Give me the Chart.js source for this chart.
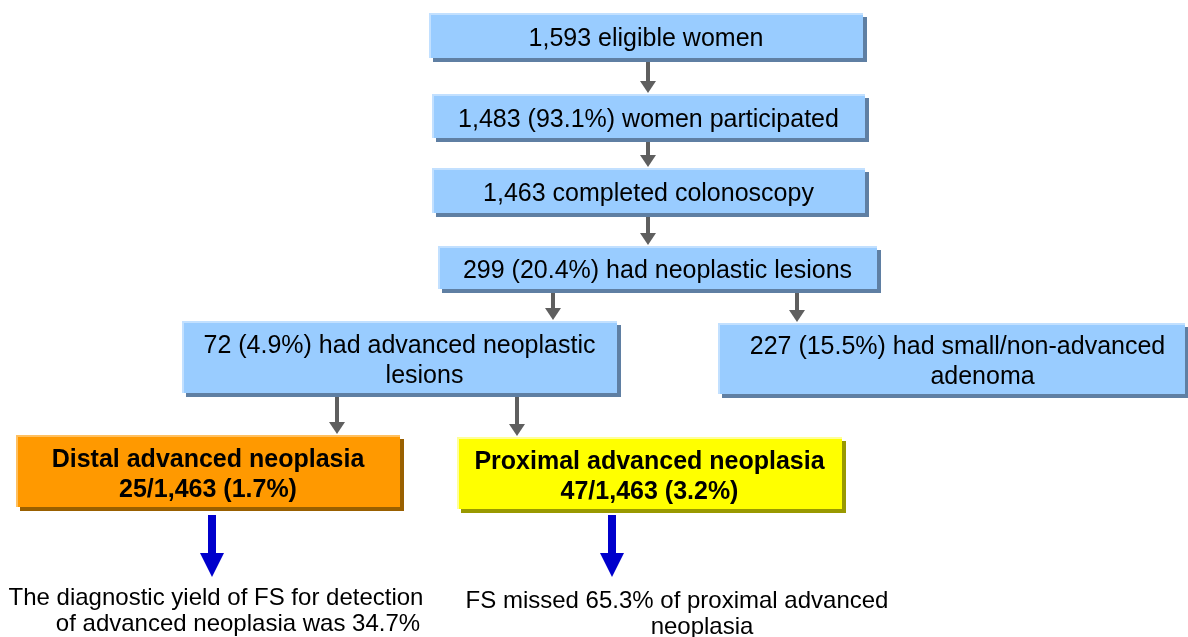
<!DOCTYPE html>
<html><head><meta charset="utf-8">
<script src="https://cdn.jsdelivr.net/npm/chart.js@4/dist/chart.umd.min.js"></script>
<style>html,body{margin:0;padding:0;background:#fff;}#wrap{width:1188px;height:637px;}</style>
</head><body><div id="wrap"><canvas id="c" width="1188" height="637"></canvas></div>
<script>
// ---- content (text) ----
const boxLabels = [
  ["1,593 eligible women"],
  ["1,483 (93.1%) women participated"],
  ["1,463 completed colonoscopy"],
  ["299 (20.4%) had neoplastic lesions"],
  ["72 (4.9%) had advanced neoplastic", "lesions"],
  ["227 (15.5%) had small/non-advanced", "adenoma"],
  ["Distal advanced neoplasia", "25/1,463 (1.7%)"],
  ["Proximal advanced neoplasia", "47/1,463 (3.2%)"]
];
const noteLines = [
  "The diagnostic yield of FS for detection",
  "of advanced neoplasia was 34.7%",
  "FS missed 65.3% of proximal advanced",
  "neoplasia"
];
// ---- layout (positions in scale units) ----
const boxX0 = [429, 432, 432, 438, 182, 718, 16, 457];
const boxX1 = [863, 865, 865, 877, 617, 1185, 400, 842];
const boxY0 = [13, 94, 168, 246, 321, 323, 435, 437];
const boxY1 = [58, 138, 213, 289, 393, 394, 507, 509];
const lineShiftX = [[0], [0], [0], [0], [0, 25], [6, 31], [0, 0], [0, 0]];
const boxKind = ["blue","blue","blue","blue","blue","blue","orange","yellow"];
const grayArrows = [ // x, yStart, yEnd
  [648, 59, 93], [648, 139, 167], [648, 214, 245],
  [553, 290, 320], [797, 290, 322],
  [337, 394, 434], [517, 394, 436]
];
const blueArrows = [[212, 515, 577], [612, 515, 577]];
const noteX = [216, 238, 677, 702];
const noteY = [598, 624, 601, 627];

const styles = {
  blue:   {fill:'#99ccff', shadow:'#5f7fa3', hi:'#c2e0ff', bold:false},
  orange: {fill:'#ff9900', shadow:'#996000', hi:'#ffc060', bold:true},
  yellow: {fill:'#ffff00', shadow:'#999900', hi:'#ffff99', bold:true}
};

const flowPlugin = {
  id: 'flow',
  afterDatasetsDraw(chart) {
    const ctx = chart.ctx, xs = chart.scales.x, ys = chart.scales.y;
    const px = v => xs.getPixelForValue(v), py = v => ys.getPixelForValue(v);
    ctx.save();
    // gray arrows
    grayArrows.forEach(a => {
      const x = px(a[0]), y0 = py(a[1]), y1 = py(a[2]);
      ctx.fillStyle = '#5f5f5f';
      ctx.fillRect(x - 2, y0, 4, (y1 - y0) - 11);
      ctx.beginPath();
      ctx.moveTo(x - 8, y1 - 12); ctx.lineTo(x + 8, y1 - 12); ctx.lineTo(x, y1); ctx.closePath();
      ctx.fill();
    });
    // blue arrows
    blueArrows.forEach(a => {
      const x = px(a[0]), y0 = py(a[1]), y1 = py(a[2]);
      ctx.fillStyle = '#0000cc';
      ctx.fillRect(x - 4, y0, 8, (y1 - y0) - 23);
      ctx.beginPath();
      ctx.moveTo(x - 12, y1 - 24); ctx.lineTo(x + 12, y1 - 24); ctx.lineTo(x, y1); ctx.closePath();
      ctx.fill();
    });
    // boxes
    boxLabels.forEach((lines, i) => {
      const st = styles[boxKind[i]];
      const x0 = px(boxX0[i]), x1 = px(boxX1[i]), y0 = py(boxY0[i]), y1 = py(boxY1[i]);
      ctx.fillStyle = st.shadow;
      ctx.fillRect(x0 + 4, y0 + 4, x1 - x0, y1 - y0);
      ctx.fillStyle = st.fill;
      ctx.fillRect(x0, y0, x1 - x0, y1 - y0);
      ctx.fillStyle = st.hi;
      ctx.fillRect(x0, y0, x1 - x0, 2);
      ctx.fillRect(x0, y0, 2, y1 - y0);
      ctx.fillStyle = '#000';
      ctx.font = (st.bold ? 'bold ' : '') + '25px "Liberation Sans", Arial, sans-serif';
      ctx.textAlign = 'center'; ctx.textBaseline = 'middle';
      const cx = (x0 + x1) / 2, cy = (y0 + y1) / 2, lh = 30;
      lines.forEach((t, k) => {
        ctx.fillText(t, cx + lineShiftX[i][k], cy + (k - (lines.length - 1) / 2) * lh + 4);
      });
    });
    // notes
    ctx.fillStyle = '#000';
    ctx.font = '24px "Liberation Sans", Arial, sans-serif';
    ctx.textAlign = 'center'; ctx.textBaseline = 'middle';
    noteLines.forEach((t, i) => ctx.fillText(t, px(noteX[i]), py(noteY[i])));
    ctx.restore();
  }
};

new Chart(document.getElementById('c'), {
  type: 'scatter',
  data: { datasets: [{ data: boxX0.map((x, i) => ({x: (x + boxX1[i]) / 2, y: (boxY0[i] + boxY1[i]) / 2})), pointRadius: 0 }] },
  options: {
    responsive: false, animation: false, maintainAspectRatio: false,
    layout: { padding: 0 },
    plugins: { legend: {display:false}, tooltip: {enabled:false} },
    scales: {
      x: { type:'linear', min:0, max:1188, display:false },
      y: { type:'linear', min:0, max:637, reverse:true, display:false }
    }
  },
  plugins: [flowPlugin]
});
</script></body></html>
